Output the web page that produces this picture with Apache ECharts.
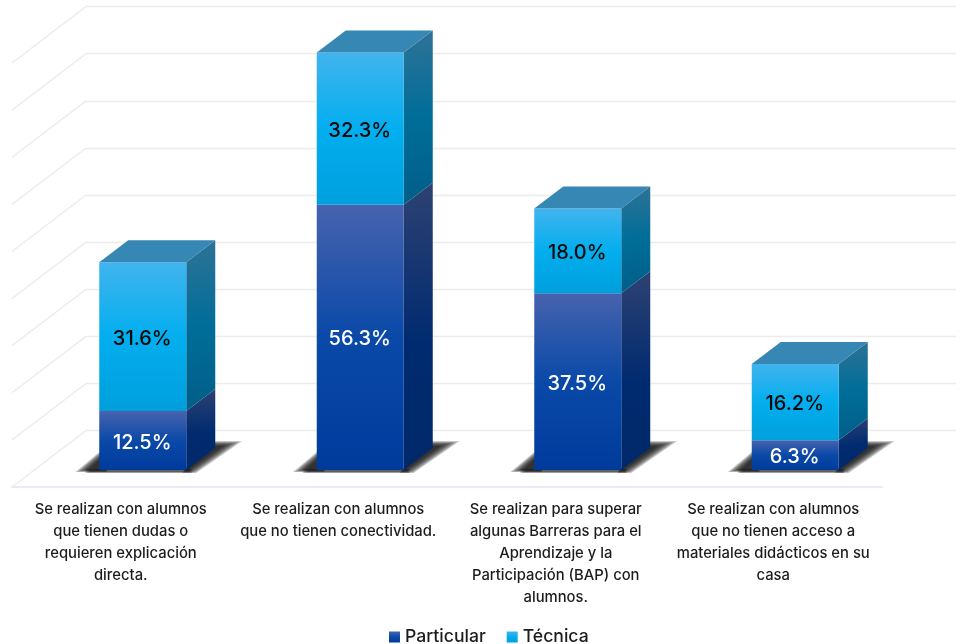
<!DOCTYPE html>
<html><head><meta charset="utf-8">
<style>html,body{margin:0;padding:0;background:#fff}#c{width:968px;height:644px}</style>
<script src="https://cdn.jsdelivr.net/npm/echarts@6/dist/echarts.min.js"></script>
</head><body><div id="c"></div>
<script>
const categories = [
  'Se realizan con alumnos\nque tienen dudas o\nrequieren explicación\ndirecta.',
  'Se realizan con alumnos\nque no tienen conectividad.',
  'Se realizan para superar\nalgunas Barreras para el\nAprendizaje y la\nParticipación (BAP) con\nalumnos.',
  'Se realizan con alumnos\nque no tienen acceso a\nmateriales didácticos en su\ncasa'
];
const particular = [12.5, 56.3, 37.5, 6.3];
const tecnica = [31.6, 32.3, 18.0, 16.2];
const gridTicks = [0, 10, 20, 30, 40, 50, 60, 70, 80, 90];

const FONT = 'Inter, "Open Sans", sans-serif';
const G = echarts.graphic.LinearGradient;
const v = stops => new G(0, 0, 0, 1, stops.map((c, i) => ({offset: c[0], color: c[1]})));
const diag = stops => new G(0, 0, 0.25, 1, stops.map((c, i) => ({offset: c[0], color: c[1]})));

const partFront = () => v([[0, '#4763AE'], [0.5, '#0A49A8'], [1, '#003B9C']]);
const tecFront = () => v([[0, '#41B4EE'], [0.5, '#03AEEF'], [1, '#009FDC']]);
const partSide = () => diag([[0, '#2E4272'], [0.55, '#012B70'], [1, '#01296A']]);
const tecSide = () => diag([[0, '#2F7296'], [0.5, '#006E99'], [1, '#005E88']]);
const topFace = '#3687B3';

const BAR_W = 87, DX = 29, DY = 22;   // bar width and depth
const FLOOR_DX = 22, FLOOR_DY = 17;   // bar base offset from the front edge of the floor
const WALL_DX = 74, WALL_DY = 56.4;   // wall offset from the front edge of the floor
const SHADOW_LAYERS = 9;

function barRender(kind) {
  return function (params, api) {
    const i = api.value(0), from = api.value(1), val = api.value(2);
    const cx = api.coord([i, 0])[0] + FLOOR_DX;
    const yB = api.coord([i, from])[1] - FLOOR_DY;
    const yT = api.coord([i, from + val])[1] - FLOOR_DY;
    const x0 = cx - BAR_W / 2, x1 = cx + BAR_W / 2;
    const kids = [
      {type: 'polygon', shape: {points: [[x1, yB], [x1 + DX, yB - DY], [x1 + DX, yT - DY], [x1, yT]]},
       style: {fill: kind === 'p' ? partSide() : tecSide()}},
      {type: 'rect', shape: {x: x0, y: yT, width: BAR_W, height: yB - yT},
       style: {fill: kind === 'p' ? partFront() : tecFront()}}
    ];
    if (kind === 't') {
      kids.push({type: 'polygon', shape: {points: [[x0, yT], [x1, yT], [x1 + DX, yT - DY], [x0 + DX, yT - DY]]},
                 style: {fill: topFace}});
    }
    kids.push({type: 'text', style: {
      x: cx - 0.5, y: (yB + yT) / 2 + 2, text: val.toFixed(1) + '%',
      fill: kind === 'p' ? '#fff' : '#0a0a0a', font: '500 20px ' + FONT, align: 'center', verticalAlign: 'middle'
    }});
    return {type: 'group', children: kids};
  };
}

// Soft floor shadow: stacked translucent polygons between an outer and an inner outline
function shadowLayers(outer, inner) {
  const out = [];
  for (let k = 0; k < SHADOW_LAYERS; k++) {
    const t = k / (SHADOW_LAYERS - 1);
    out.push({type: 'polygon',
      shape: {points: outer.map((p, j) => [p[0] + (inner[j][0] - p[0]) * t, p[1] + (inner[j][1] - p[1]) * t])},
      style: {fill: 'rgba(20,20,20,0.2)'}});
  }
  return out;
}

function shadowRender(params, api) {
  const i = api.value(0);
  const cx = api.coord([i, 0])[0] + FLOOR_DX;
  const y = api.coord([i, 0])[1] - FLOOR_DY;
  const x0 = cx - BAR_W / 2, x1 = cx + BAR_W / 2;
  return {type: 'group', children: [
    ...shadowLayers(
      [[x0 - 24, y + 2], [x0, y - 18], [x0 + 8, y - 18], [x0 + 8, y + 2]],
      [[x0 - 10, y - 1], [x0, y - 10], [x0 + 4, y - 10], [x0 + 4, y - 1]]),
    ...shadowLayers(
      [[x1 - 4, y + 3], [x1 + 10, y + 3], [x1 + 56, y - 29], [x1 + 18, y - 29]],
      [[x1, y - 1], [x1 + 3, y - 1], [x1 + 36, y - 24], [x1 + 26, y - 24]]),
    ...shadowLayers(
      [[x0 - 14, y + 3], [x1 + 6, y + 3], [x1 + 6, y - 1], [x0 - 14, y - 1]],
      [[x0 - 4, y + 1], [x1, y + 1], [x1, y - 1], [x0 - 4, y - 1]]).slice(0, 5)
  ]};
}

function diagRender(params, api) {
  const p = api.coord([0, api.value(0)]);
  const x = params.coordSys.x;
  return {type: 'line', shape: {x1: x, y1: p[1], x2: x + WALL_DX, y2: p[1] - WALL_DY},
          style: {stroke: '#ECECEC', lineWidth: 1.4}, silent: true};
}

const partData = particular.map((d, i) => [i, 0, d]);
const tecData = tecnica.map((d, i) => [i, particular[i], d]);

const chart = echarts.init(document.getElementById('c'), null, {renderer: 'canvas'});
chart.setOption({
  animation: false,
  backgroundColor: '#fff',
  grid: [
    {left: 12, width: 870, top: 63, height: 424},
    {left: 86, width: 870, top: 6.6, height: 424}
  ],
  xAxis: [
    {type: 'category', gridIndex: 0, data: categories,
     axisLine: {show: true, lineStyle: {color: '#EFE9F7', width: 2}},
     axisTick: {show: false},
     axisLabel: {interval: 0, color: '#1c1c1c', fontFamily: FONT, fontSize: 14.8, fontWeight: 500, lineHeight: 22, margin: 12, align: 'center'}},
    {type: 'category', gridIndex: 1, data: categories, show: false}
  ],
  yAxis: [
    {type: 'value', gridIndex: 0, min: 0, max: 90, interval: 10, show: false, splitLine: {show: false}},
    {type: 'value', gridIndex: 1, min: 0, max: 90, interval: 10,
     axisLine: {show: false}, axisTick: {show: false}, axisLabel: {show: false},
     splitLine: {show: true, lineStyle: {color: '#ECECEC', width: 1.4}}}
  ],
  legend: {
    data: [{name: 'Particular', itemStyle: {color: partFront()}}, {name: 'Técnica', itemStyle: {color: tecFront()}}],
    left: 389, top: 628, itemWidth: 11, itemHeight: 11, itemGap: 21, icon: 'rect',
    textStyle: {fontFamily: FONT, fontSize: 17.6, fontWeight: 500, color: '#1c1c1c'},
    padding: 0
  },
  series: [
    {type: 'custom', name: 'grid-diag', xAxisIndex: 0, yAxisIndex: 0, data: gridTicks.map(t => [t]), renderItem: diagRender, silent: true, z: 1, encode: {y: 0}},
    {type: 'custom', name: 'floor-shadow', xAxisIndex: 0, yAxisIndex: 0, data: categories.map((c, i) => [i]), renderItem: shadowRender, silent: true, z: 2, encode: {x: 0}},
    {type: 'custom', name: 'Particular', xAxisIndex: 0, yAxisIndex: 0, data: partData, renderItem: barRender('p'), z: 3, encode: {x: 0, y: 2}, itemStyle: {color: '#0A49A8'}},
    {type: 'custom', name: 'Técnica', xAxisIndex: 0, yAxisIndex: 0, data: tecData, renderItem: barRender('t'), z: 3, encode: {x: 0, y: 2}, itemStyle: {color: '#03AEEF'}}
  ]
});
</script></body></html>
